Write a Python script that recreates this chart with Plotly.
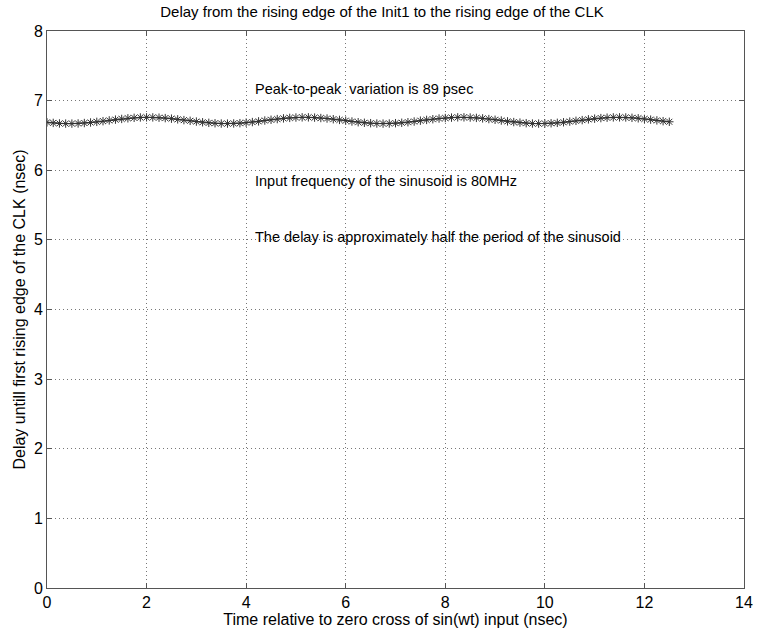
import plotly.graph_objects as go

time_ns = [i * 0.125 for i in range(101)]
delay_ns = [
    6.688, 6.680, 6.672, 6.670, 6.670, 6.672, 6.678, 6.686, 6.695, 6.705,
    6.716, 6.727, 6.737, 6.746, 6.753, 6.758, 6.760, 6.759, 6.755, 6.749,
    6.741, 6.731, 6.720, 6.710, 6.699, 6.689, 6.681, 6.675, 6.671, 6.670,
    6.672, 6.676, 6.684, 6.692, 6.702, 6.714, 6.725, 6.735, 6.745, 6.752,
    6.757, 6.760, 6.760, 6.756, 6.750, 6.743, 6.733, 6.723, 6.712, 6.700,
    6.690, 6.682, 6.676, 6.671, 6.670, 6.671, 6.676, 6.682, 6.690, 6.700,
    6.712, 6.723, 6.733, 6.743, 6.750, 6.756, 6.760, 6.760, 6.757, 6.752,
    6.745, 6.735, 6.725, 6.714, 6.702, 6.692, 6.684, 6.676, 6.671, 6.670,
    6.671, 6.675, 6.681, 6.689, 6.699, 6.710, 6.720, 6.731, 6.741, 6.749,
    6.755, 6.759, 6.760, 6.758, 6.753, 6.746, 6.737, 6.727, 6.716, 6.705,
    6.696,
]

x_ticks = [0, 2, 4, 6, 8, 10, 12, 14]
y_ticks = [0, 1, 2, 3, 4, 5, 6, 7, 8]

title_text = "Delay from the rising edge of the Init1 to the rising edge of the CLK"
x_title = "Time relative to zero cross of sin(wt) input (nsec)"
y_title = "Delay untill first rising edge of the CLK (nsec)"
notes = [
    (4.13, 7.17, "Peak-to-peak\u00a0 variation is 89 psec"),
    (4.13, 5.85, "Input frequency of the sinusoid is 80MHz"),
    (4.13, 5.04, "The delay is approximately half the period of the sinusoid"),
]

FONT = "Liberation Sans, Arial, sans-serif"

fig = go.Figure()
fig.add_trace(go.Scatter(
    x=time_ns, y=delay_ns, mode="lines+markers",
    line=dict(color="#222222", width=1),
    marker=dict(symbol="asterisk-open", size=7, color="#333333",
                line=dict(color="#333333", width=1)),
    showlegend=False,
))

for nx, ny, txt in notes:
    fig.add_annotation(x=nx, y=ny, text=txt, showarrow=False,
                       xanchor="left", yanchor="middle",
                       font=dict(family=FONT, size=14.5, color="black"))

axis_common = dict(
    showline=True, linecolor="#555555", linewidth=1, mirror="ticks",
    ticks="inside", ticklen=5, tickcolor="#555555",
    showgrid=True, gridcolor="#777777", griddash="1px,3px", gridwidth=1,
    zeroline=False, tickfont=dict(family=FONT, size=16, color="black"),
    ticklabeloverflow="allow",
)

fig.update_layout(
    width=764, height=634,
    margin=dict(l=47, r=11, t=31, b=46),
    paper_bgcolor="white", plot_bgcolor="white",
    title=dict(text=title_text, x=0.5, xanchor="center", y=0.981, yanchor="middle",
               font=dict(family=FONT, size=15, color="black")),
    xaxis=dict(range=[0, 14], tickmode="array", tickvals=x_ticks,
               ticktext=[str(v) for v in x_ticks],
               title=dict(text=x_title, font=dict(family=FONT, size=16, color="black"), standoff=0),
               **axis_common),
    yaxis=dict(range=[0, 8], tickmode="array", tickvals=y_ticks,
               ticktext=[str(v) for v in y_ticks],
               title=dict(text=y_title, font=dict(family=FONT, size=16, color="black"), standoff=4),
               **axis_common),
)

fig.write_html("out.html")
